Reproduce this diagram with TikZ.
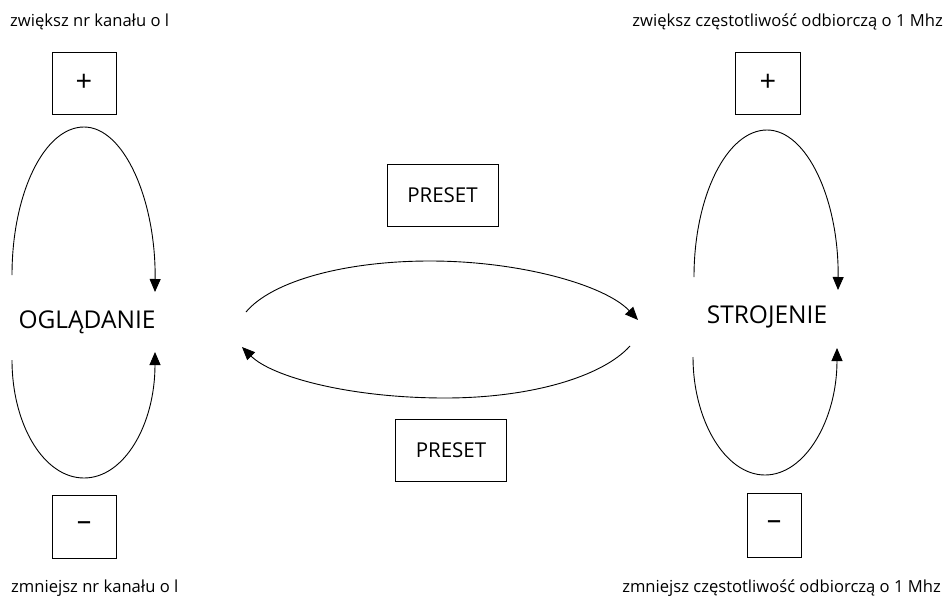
\documentclass[tikz,border=0pt]{standalone}
\usepackage{fontspec}
\setmainfont{Open Sans}
\usetikzlibrary{arrows.meta}
\begin{document}
\begin{tikzpicture}[x=1pt,y=-1pt,
  smalltxt/.style={font=\fontsize{16.6}{19}\selectfont, inner sep=0pt},
  statetxt/.style={font=\fontsize{24.5}{28}\selectfont, inner sep=0pt},
  keybox/.style={draw, line width=0.9pt, inner sep=0pt, font=\fontsize{29}{32}\selectfont},
  presetbox/.style={draw, line width=0.9pt, inner sep=0pt, minimum width=111pt, minimum height=62pt, font=\fontsize{20.5}{24}\selectfont},
  conn/.style={line width=0.9pt, -{Triangle[length=13pt,width=11pt]}}]
\useasboundingbox (0,0) rectangle (946,600);
% texts
\node[smalltxt, anchor=base west] (t1) at (10,26) {zwiększ nr kanału o l};
\node[smalltxt, anchor=base east] (t2) at (943,26) {zwiększ częstotliwość odbiorczą o 1 Mhz};
\node[smalltxt, anchor=base west] (t3) at (11,592) {zmniejsz nr kanału o l};
\node[smalltxt, anchor=base east] (t4) at (941,592) {zmniejsz częstotliwość odbiorczą o 1 Mhz};
% keys
\node[keybox, minimum width=64pt, minimum height=62pt] (plusL) at (84,83) {+};
\node[keybox, minimum width=65pt, minimum height=62pt] (plusR) at (768,83) {+};
\node[keybox, minimum width=64pt, minimum height=63pt] (minusL) at (84,526.5) {–};
\node[keybox, minimum width=54pt, minimum height=64pt] (minusR) at (774,525) {–};
% presets
\node[presetbox] (presetT) at (442.5,195) {PRESET};
\node[presetbox] (presetB) at (451,450) {PRESET};
% states
\node[statetxt] (ogl) at (87,322) {OGLĄDANIE};
\node[statetxt] (str) at (767,317) {STROJENIE};
% coordinates for loop ends
\coordinate (oTLs) at (12,275);
\coordinate (oTRe) at (155,292);
\coordinate (oBLs) at (12,360);
\coordinate (oBRe) at (155,352);
\coordinate (sTLs) at (694,277);
\coordinate (sTRe) at (838,290);
\coordinate (sBLs) at (693,357);
\coordinate (sBRe) at (837,348);
\coordinate (hTs) at (246,312);
\coordinate (hTe) at (638,320);
\coordinate (hBs) at (630,346);
\coordinate (hBe) at (242,347);
% loops
\draw[conn] (oTLs) .. controls (12,194) and (44,127) .. (84,127) .. controls (124,127) and (156,200) .. (oTRe);
\draw[conn] (oBLs) .. controls (12,425) and (44,478) .. (84,478) .. controls (124,478) and (155,425) .. (oBRe);
\draw[conn] (sTLs) .. controls (694,196) and (727,130) .. (767,130) .. controls (807,130) and (839,200) .. (sTRe);
\draw[conn] (sBLs) .. controls (693,420) and (725,475) .. (765,475) .. controls (805,475) and (837,420) .. (sBRe);
\draw[conn] (hTs) .. controls (272,281) and (345,261) .. (430,261) .. controls (520,261) and (605,285) .. (hTe);
\draw[conn] (hBs) .. controls (602,377) and (530,398) .. (445,398) .. controls (350,398) and (272,377) .. (hBe);
\end{tikzpicture}
\end{document}
